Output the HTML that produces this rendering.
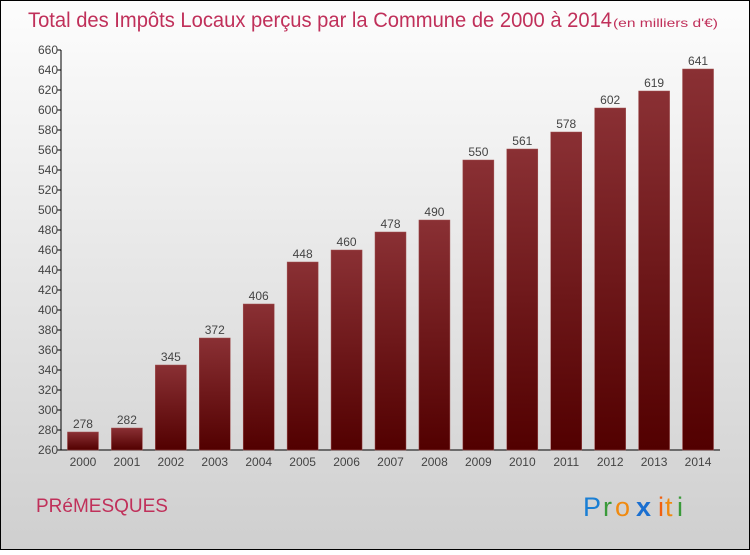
<!DOCTYPE html>
<html><head><meta charset="utf-8"><style>
body{margin:0;}
svg text{font-family:"Liberation Sans",sans-serif;}
</style></head><body>
<svg width="750" height="550" xmlns="http://www.w3.org/2000/svg">
<defs>
<linearGradient id="bg" x1="0" y1="0" x2="0" y2="1"><stop offset="0" stop-color="#fdfdfd"/><stop offset="1" stop-color="#cfcfcf"/></linearGradient>
<linearGradient id="bar" x1="0" y1="0" x2="0" y2="1"><stop offset="0" stop-color="#8a3034"/><stop offset="1" stop-color="#520000"/></linearGradient>
</defs>
<rect x="0.5" y="0.5" width="749" height="549" fill="url(#bg)" stroke="#000"/>
<text x="28" y="27" font-size="21" fill="#c0305a" textLength="584" lengthAdjust="spacingAndGlyphs">Total des Impôts Locaux perçus par la Commune de 2000 à 2014</text>
<text x="613" y="27" font-size="12" fill="#c0305a" textLength="105" lengthAdjust="spacingAndGlyphs">(en milliers d'€)</text>
<g id="axes"></g>
<g id="bars"></g>
<text x="36" y="512" font-size="19" fill="#c0305a">PRéMESQUES</text>
<g font-size="27">
<text x="583" y="516" fill="#1a7fd4">P</text><text x="603" y="516" fill="#3a9a3a">r</text><text x="615" y="516" fill="#f08a10">o</text><text x="636" y="516" fill="#1a6fd0" font-weight="bold">x</text><text x="658" y="516" fill="#f06010">i</text><text x="665" y="516" fill="#f08a10">t</text><text x="677" y="516" fill="#3a9a3a">i</text>
</g>
</svg>
<script>
const categories=["2000","2001","2002","2003","2004","2005","2006","2007","2008","2009","2010","2011","2012","2013","2014"];
const values=[278,282,345,372,406,448,460,478,490,550,561,578,602,619,641];
const ticks=[260,280,300,320,340,360,380,400,420,440,460,480,500,520,540,560,580,600,620,640,660];
const NS="http://www.w3.org/2000/svg";
const X0=61,X1=720,Y0=450,Y1=50,vmin=260,vmax=660;
const y=v=>Y0-(v-vmin)/(vmax-vmin)*(Y0-Y1);
const step=(X1-X0)/categories.length;
const x=i=>X0+step*(i+0.5);
function mk(t,a,p){const e=document.createElementNS(NS,t);for(const k in a)e.setAttribute(k,a[k]);p.appendChild(e);return e;}
const ax=document.getElementById('axes'),bg=document.getElementById('bars');
const yl=mk('line',{x1:X0,y1:Y1,x2:X0,y2:Y0,stroke:'#000','stroke-width':1},ax);


const xl=mk('line',{x1:X0,y1:Y0,x2:X1,y2:Y0,stroke:'#000','stroke-width':1},ax);


ticks.forEach(t=>{
 mk('line',{x1:X0-4,x2:X0,y1:y(t),y2:y(t),stroke:'#000'},ax);
 const tx=mk('text',{x:X0-3,y:y(t)+4,'font-size':12,fill:'#444','text-anchor':'end'},ax);
 tx.textContent=t;
 
 
});
categories.forEach((c,i)=>{
 const w=31,v=values[i];
 const r=mk('rect',{x:x(i)-w/2,y:y(v),width:w,height:Y0-y(v),fill:'url(#bar)',stroke:'#a05050','stroke-width':0.5},bg);
 
 
 const lb=mk('text',{x:x(i),y:y(v)-4,'font-size':12,fill:'#444','text-anchor':'middle'},bg);
 lb.textContent=v;
 
 
 const xt=mk('text',{x:x(i),y:Y0+16,'font-size':12,fill:'#444','text-anchor':'middle'},ax);
 xt.textContent=c;
 
 
});
</script>
</body></html>
